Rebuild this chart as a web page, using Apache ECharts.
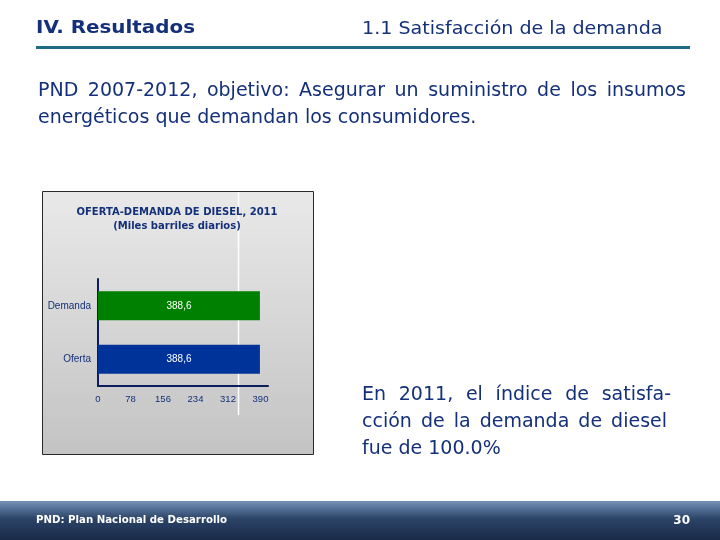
<!DOCTYPE html>
<html><head><meta charset="utf-8">
<script src="https://cdn.jsdelivr.net/npm/echarts@6/dist/echarts.min.js"></script>
<style>html,body{margin:0;padding:0;background:#fff}#c{width:720px;height:540px}</style>
</head><body><div id="c"></div>
<script>
const categories = ['Oferta', 'Demanda'];
const values = [388.6, 388.6];
const barColors = ['#003399', '#008000'];
const tickValues = [0, 78, 156, 234, 312, 390];

const navy = '#14307a';
const chart = echarts.init(document.getElementById('c'));
const mctx = document.createElement('canvas').getContext('2d');
function measure(t, font) { mctx.font = font; return mctx.measureText(t).width; }
// text line spread to a given width (justified), or natural if width is null
function line(text, x, y, font, width) {
  if (!width) return [{ type: 'text', x: x, y: y, style: { text: text, fill: navy, font: font } }];
  const words = text.split(' ');
  const total = words.reduce((s, w) => s + measure(w, font), 0);
  const gap = (width - total) / (words.length - 1);
  const out = []; let cx = x;
  words.forEach(w => { out.push({ type: 'text', x: cx, y: y, style: { text: w, fill: navy, font: font } }); cx += measure(w, font) + gap; });
  return out;
}
const bodyFont = '19px "DejaVu Sans"';
const g = [
  { type: 'rect', z: -10, shape: { x: 42.5, y: 191.5, width: 271, height: 263 },
    style: { fill: new echarts.graphic.LinearGradient(0, 0, 0, 1, [{offset: 0, color: '#e9e9e9'}, {offset: 1, color: '#c3c3c3'}]),
      stroke: '#2a2a2a', lineWidth: 1 } },
  { type: 'line', z: -5, shape: { x1: 238.5, y1: 192, x2: 238.5, y2: 415 }, style: { stroke: '#ffffff', lineWidth: 1.5 } },
  { type: 'text', x: 177, y: 207, style: { text: 'OFERTA-DEMANDA DE DIESEL, 2011', textAlign: 'center', fill: navy, font: 'bold 10px "DejaVu Sans"' } },
  { type: 'text', x: 177, y: 221, style: { text: '(Miles barriles diarios)', textAlign: 'center', fill: navy, font: 'bold 10px "DejaVu Sans"' } },
  { type: 'text', x: 36, y: 20, scaleX: 1.17, style: { text: 'IV. Resultados', fill: navy, font: 'bold 17px "DejaVu Sans"' } },
  { type: 'text', x: 362, y: 20, scaleX: 1.06, style: { text: '1.1 Satisfacción de la demanda', fill: navy, font: '18px "DejaVu Sans"' } },
  { type: 'rect', shape: { x: 36, y: 46, width: 654, height: 3 }, style: { fill: '#1f6b85' } },
  { type: 'rect', z: -10, shape: { x: 0, y: 501, width: 720, height: 39 },
    style: { fill: new echarts.graphic.LinearGradient(0, 0, 0, 1, [{offset: 0, color: '#7592b8'}, {offset: 0.45, color: '#2c4468'}, {offset: 1, color: '#192a48'}]) } },
  { type: 'text', x: 36, y: 515, style: { text: 'PND: Plan Nacional de Desarrollo', fill: '#fff', font: 'bold 10.2px "DejaVu Sans"' } },
  { type: 'text', x: 690, y: 515, style: { text: '30', textAlign: 'right', fill: '#fff', font: 'bold 12px "DejaVu Sans"' } }
].concat(
  line('PND 2007-2012, objetivo: Asegurar un suministro de los insumos', 38, 82, bodyFont, 648),
  line('energéticos que demandan los consumidores.', 38, 109, bodyFont, null),
  line('En 2011, el índice de satisfa-', 362, 386, bodyFont, 309),
  line('cción de la demanda de diesel', 362, 413, bodyFont, 305),
  line('fue de 100.0%', 362, 440, bodyFont, null)
);

chart.setOption({
  animation: false,
  grid: { left: 98, width: 170, top: 279, height: 107 },
  xAxis: {
    type: 'value', min: 0, max: 408, interval: 78,
    splitLine: { show: false },
    axisLine: { show: true, lineStyle: { color: '#0a1f5c', width: 2 } },
    axisTick: { show: false },
    axisLabel: { color: navy, fontSize: 9.5, fontFamily: 'Liberation Sans', margin: 8,
      showMaxLabel: false,
      formatter: v => tickValues.indexOf(v) >= 0 ? String(v) : '' }
  },
  yAxis: {
    type: 'category', data: categories,
    axisLine: { show: true, lineStyle: { color: '#0a1f5c', width: 2 } },
    axisTick: { show: false },
    axisLabel: { color: navy, fontSize: 10, fontFamily: 'Liberation Sans', margin: 7 }
  },
  series: [{
    type: 'bar', barWidth: 29,
    data: values.map((v, i) => ({ value: v, itemStyle: { color: barColors[i] } })),
    label: { show: true, position: 'inside', color: '#fff', fontSize: 10, fontFamily: 'Liberation Sans',
      formatter: p => p.value.toFixed(1).replace('.', ',') }
  }],
  graphic: g
});
</script></body></html>
